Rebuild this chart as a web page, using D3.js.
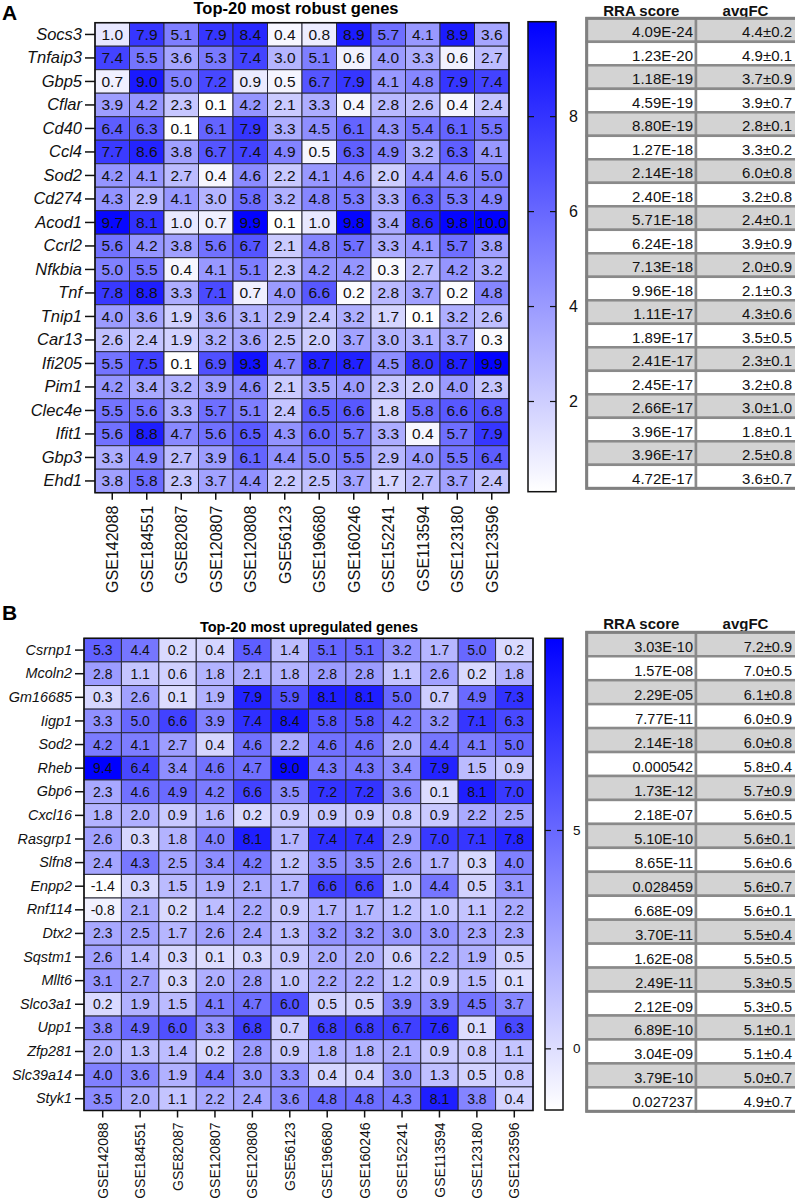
<!DOCTYPE html>
<html><head><meta charset="utf-8">
<script src="https://cdn.jsdelivr.net/npm/d3@7/dist/d3.min.js"></script>
<style>body{margin:0;background:#fff;} svg{display:block;font-family:"Liberation Sans",Arial,sans-serif;}</style>
</head><body>
<script>
// ---------- DATA ----------
const datasets = ["GSE142088","GSE184551","GSE82087","GSE120807","GSE120808","GSE56123","GSE196680","GSE160246","GSE152241","GSE113594","GSE123180","GSE123596"];

const robustGenes = ["Socs3","Tnfaip3","Gbp5","Cflar","Cd40","Ccl4","Sod2","Cd274","Acod1","Ccrl2","Nfkbia","Tnf","Tnip1","Car13","Ifi205","Pim1","Clec4e","Ifit1","Gbp3","Ehd1"];
const robustValues = [
  [1.0,7.9,5.1,7.9,8.4,0.4,0.8,8.9,5.7,4.1,8.9,3.6],
  [7.4,5.5,3.6,5.3,7.4,3.0,5.1,0.6,4.0,3.3,0.6,2.7],
  [0.7,9.0,5.0,7.2,0.9,0.5,6.7,7.9,4.1,4.8,7.9,7.4],
  [3.9,4.2,2.3,0.1,4.2,2.1,3.3,0.4,2.8,2.6,0.4,2.4],
  [6.4,6.3,0.1,6.1,7.9,3.3,4.5,6.1,4.3,5.4,6.1,5.5],
  [7.7,8.6,3.8,6.7,7.4,4.9,0.5,6.3,4.9,3.2,6.3,4.1],
  [4.2,4.1,2.7,0.4,4.6,2.2,4.1,4.6,2.0,4.4,4.6,5.0],
  [4.3,2.9,4.1,3.0,5.8,3.2,4.8,5.3,3.3,6.3,5.3,4.9],
  [9.7,8.1,1.0,0.7,9.9,0.1,1.0,9.8,3.4,8.6,9.8,10.0],
  [5.6,4.2,3.8,5.6,6.7,2.1,4.8,5.7,3.3,4.1,5.7,3.8],
  [5.0,5.5,0.4,4.1,5.1,2.3,4.2,4.2,0.3,2.7,4.2,3.2],
  [7.8,8.8,3.3,7.1,0.7,4.0,6.6,0.2,2.8,3.7,0.2,4.8],
  [4.0,3.6,1.9,3.6,3.1,2.9,2.4,3.2,1.7,0.1,3.2,2.6],
  [2.6,2.4,1.9,3.2,3.6,2.5,2.0,3.7,3.0,3.1,3.7,0.3],
  [5.5,7.5,0.1,6.9,9.3,4.7,8.7,8.7,4.5,8.0,8.7,9.9],
  [4.2,3.4,3.2,3.9,4.6,2.1,3.5,4.0,2.3,2.0,4.0,2.3],
  [5.5,5.6,3.3,5.7,5.1,2.4,6.5,6.6,1.8,5.8,6.6,6.8],
  [5.6,8.8,4.7,5.6,6.5,4.3,6.0,5.7,3.3,0.4,5.7,7.9],
  [3.3,4.9,2.7,3.9,6.1,4.4,5.0,5.5,2.9,4.0,5.5,6.4],
  [3.8,5.8,2.3,3.7,4.4,2.2,2.5,3.7,1.7,2.7,3.7,2.4]
];
const robustRRA = ["4.09E-24","1.23E-20","1.18E-19","4.59E-19","8.80E-19","1.27E-18","2.14E-18","2.40E-18","5.71E-18","6.24E-18","7.13E-18","9.96E-18","1.11E-17","1.89E-17","2.41E-17","2.45E-17","2.66E-17","3.96E-17","3.96E-17","4.72E-17"];
const robustFC = ["4.4±0.2","4.9±0.1","3.7±0.9","3.9±0.7","2.8±0.1","3.3±0.2","6.0±0.8","3.2±0.8","2.4±0.1","3.9±0.9","2.0±0.9","2.1±0.3","4.3±0.6","3.5±0.5","2.3±0.1","3.2±0.8","3.0±1.0","1.8±0.1","2.5±0.8","3.6±0.7"];
const robustTicks = [2,4,6,8];

const upGenes = ["Csrnp1","Mcoln2","Gm16685","Iigp1","Sod2","Rheb","Gbp6","Cxcl16","Rasgrp1","Slfn8","Enpp2","Rnf114","Dtx2","Sqstm1","Mllt6","Slco3a1","Upp1","Zfp281","Slc39a14","Styk1"];
const upValues = [
  [5.3,4.4,0.2,0.4,5.4,1.4,5.1,5.1,3.2,1.7,5.0,0.2],
  [2.8,1.1,0.6,1.8,2.1,1.8,2.8,2.8,1.1,2.6,0.2,1.8],
  [0.3,2.6,0.1,1.9,7.9,5.9,8.1,8.1,5.0,0.7,4.9,7.3],
  [3.3,5.0,6.6,3.9,7.4,8.4,5.8,5.8,4.2,3.2,7.1,6.3],
  [4.2,4.1,2.7,0.4,4.6,2.2,4.6,4.6,2.0,4.4,4.1,5.0],
  [9.4,6.4,3.4,4.6,4.7,9.0,4.3,4.3,3.4,7.9,1.5,0.9],
  [2.3,4.6,4.9,4.2,6.6,3.5,7.2,7.2,3.6,0.1,8.1,7.0],
  [1.8,2.0,0.9,1.6,0.2,0.9,0.9,0.9,0.8,0.9,2.2,2.5],
  [2.6,0.3,1.8,4.0,8.1,1.7,7.4,7.4,2.9,7.0,7.1,7.8],
  [2.4,4.3,2.5,3.4,4.2,1.2,3.5,3.5,2.6,1.7,0.3,4.0],
  [-1.4,0.3,1.5,1.9,2.1,1.7,6.6,6.6,1.0,4.4,0.5,3.1],
  [-0.8,2.1,0.2,1.4,2.2,0.9,1.7,1.7,1.2,1.0,1.1,2.2],
  [2.3,2.5,1.7,2.6,2.4,1.3,3.2,3.2,3.0,3.0,2.3,2.3],
  [2.6,1.4,0.3,0.1,0.3,0.9,2.0,2.0,0.6,2.2,1.9,0.5],
  [3.1,2.7,0.3,2.0,2.8,1.0,2.2,2.2,1.2,0.9,1.5,0.1],
  [0.2,1.9,1.5,4.1,4.7,6.0,0.5,0.5,3.9,3.9,4.5,3.7],
  [3.8,4.9,6.0,3.3,6.8,0.7,6.8,6.8,6.7,7.6,0.1,6.3],
  [2.0,1.3,1.4,0.2,2.8,0.9,1.8,1.8,2.1,0.9,0.8,1.1],
  [4.0,3.6,1.9,4.4,3.0,3.3,0.4,0.4,3.0,1.3,0.5,0.8],
  [3.5,2.0,1.1,2.2,2.4,3.6,4.8,4.8,4.3,8.1,3.8,0.4]
];
const upRRA = ["3.03E-10","1.57E-08","2.29E-05","7.77E-11","2.14E-18","0.000542","1.73E-12","2.18E-07","5.10E-10","8.65E-11","0.028459","6.68E-09","3.70E-11","1.62E-08","2.49E-11","2.12E-09","6.89E-10","3.04E-09","3.79E-10","0.027237"];
const upFC = ["7.2±0.9","7.0±0.5","6.1±0.8","6.0±0.9","6.0±0.8","5.8±0.4","5.7±0.9","5.6±0.5","5.6±0.1","5.6±0.6","5.6±0.7","5.6±0.1","5.5±0.4","5.5±0.5","5.3±0.5","5.3±0.5","5.1±0.1","5.1±0.4","5.0±0.7","4.9±0.7"];
const upTicks = [0,5];

// ---------- DRAWING ----------
const svg = d3.select("body").append("svg").attr("width",795).attr("height",1200);

function panel(cfg){
  const g = svg.append("g");
  const x = d3.scaleBand().domain(datasets).range([cfg.hx0,cfg.hx1]);
  const y = d3.scaleBand().domain(cfg.genes).range([cfg.hy0,cfg.hy1]);
  const color = d3.scaleLinear().domain(cfg.domain).range(["#ffffff","#0000ff"]).interpolate(d3.interpolateRgb).clamp(true);

  // panel letter + title
  g.append("text").attr("x",2).attr("y",cfg.letterY).attr("font-size",21).attr("font-weight","bold").text(cfg.letter);
  g.append("text").attr("x",cfg.titleX).attr("y",cfg.titleY).attr("text-anchor","middle")
    .attr("font-size",cfg.titleSize).attr("font-weight","bold").text(cfg.title);

  // cells
  const cells = [];
  cfg.values.forEach((row,i)=>row.forEach((v,j)=>cells.push({gene:cfg.genes[i],ds:datasets[j],v})));
  g.selectAll("rect.cell").data(cells).join("rect").attr("class","cell")
    .attr("x",d=>x(d.ds)).attr("y",d=>y(d.gene))
    .attr("width",x.bandwidth()).attr("height",y.bandwidth())
    .attr("fill",d=>color(d.v)).attr("stroke","#2a2a3a").attr("stroke-width",1);
  g.selectAll("text.val").data(cells).join("text").attr("class","val")
    .attr("x",d=>x(d.ds)+x.bandwidth()/2).attr("y",d=>y(d.gene)+y.bandwidth()/2)
    .attr("text-anchor","middle").attr("dominant-baseline","central")
    .attr("font-size",cfg.cellFont).attr("fill","#111").text(d=>d.v.toFixed(1));
  g.append("rect").attr("x",cfg.hx0).attr("y",cfg.hy0).attr("width",cfg.hx1-cfg.hx0).attr("height",cfg.hy1-cfg.hy0)
    .attr("fill","none").attr("stroke","#111").attr("stroke-width",1.5);

  // y axis
  const ya = g.append("g").attr("transform",`translate(${cfg.hx0},0)`)
    .call(d3.axisLeft(y).tickSize(cfg.yTick).tickPadding(3));
  ya.select(".domain").remove();
  ya.selectAll(".tick line").attr("stroke","#111").attr("stroke-width",1.5);
  ya.selectAll(".tick text").attr("font-size",cfg.geneFont).attr("font-style","italic").attr("fill","#111")
    .attr("font-family",'"Liberation Sans",Arial,sans-serif');

  // x axis
  const xa = g.append("g").attr("transform",`translate(0,${cfg.hy1})`)
    .call(d3.axisBottom(x).tickSize(cfg.xTick));
  xa.select(".domain").remove();
  xa.selectAll(".tick line").attr("stroke","#111").attr("stroke-width",1.5);
  xa.selectAll(".tick text").attr("font-size",cfg.dsFont).attr("fill","#111")
    .attr("font-family",'"Liberation Sans",Arial,sans-serif')
    .attr("transform","rotate(-90)").attr("text-anchor","end")
    .attr("x",-(cfg.xTick+cfg.xPad)).attr("y",0).attr("dy","0.36em");

  // colorbar
  const gid = "grad"+cfg.letter;
  const grad = svg.append("defs").append("linearGradient").attr("id",gid)
    .attr("x1",0).attr("y1",1).attr("x2",0).attr("y2",0);
  d3.range(0,1.0001,0.1).forEach(t=>{
    const v = cfg.domain[0]+t*(cfg.domain[1]-cfg.domain[0]);
    grad.append("stop").attr("offset",t).attr("stop-color",color(v));
  });
  const cb = cfg.cb;
  g.append("rect").attr("x",cb.x0).attr("y",cb.y0).attr("width",cb.x1-cb.x0).attr("height",cb.y1-cb.y0)
    .attr("fill",`url(#${gid})`).attr("stroke","#111").attr("stroke-width",1.5);
  const cs = d3.scaleLinear().domain(cfg.domain).range([cb.y1,cb.y0]);
  const tk = g.selectAll("g.cbt").data(cfg.ticks).join("g").attr("class","cbt");
  tk.append("line").attr("x1",cb.x0).attr("x2",cb.x0+6).attr("y1",d=>cs(d)).attr("y2",d=>cs(d)).attr("stroke","#111").attr("stroke-width",1.2);
  tk.append("line").attr("x1",cb.x1-6).attr("x2",cb.x1).attr("y1",d=>cs(d)).attr("y2",d=>cs(d)).attr("stroke","#111").attr("stroke-width",1.2);
  tk.append("text").attr("x",cb.labelX).attr("y",d=>cs(d)).attr("dominant-baseline","central")
    .attr("font-size",cb.font).attr("fill","#111").text(d=>d);

  // table
  const tb = cfg.table;
  const ty = d3.scaleBand().domain(d3.range(cfg.genes.length)).range([tb.y0,tb.y1]);
  const cols = [{x0:tb.x0,x1:tb.xm,vals:cfg.rra,head:"RRA score"},{x0:tb.xm,x1:tb.x1,vals:cfg.fc,head:"avgFC"}];
  cols.forEach(c=>{
    g.append("text").attr("x",(c.x0+Math.min(c.x1,795))/2).attr("y",tb.headY).attr("text-anchor","middle")
      .attr("font-size",tb.headFont).attr("font-weight","bold").attr("fill","#111").text(c.head);
    g.selectAll(null).data(c.vals).join("rect")
      .attr("x",c.x0).attr("y",(d,i)=>ty(i)).attr("width",c.x1-c.x0).attr("height",ty.bandwidth())
      .attr("fill",(d,i)=>i%2===0?"#d3d3d3":"#ffffff").attr("stroke","#8a8a8a").attr("stroke-width",2.5);
  });
  cols.forEach(c=>{
    g.selectAll(null).data(c.vals).join("text")
      .attr("x",Math.min(c.x1,795)-3).attr("y",(d,i)=>ty(i)+ty.bandwidth()-tb.baseOff)
      .attr("text-anchor","end").attr("font-size",tb.font).attr("fill","#111").text(d=>d);
  });
  g.append("rect").attr("x",tb.x0).attr("y",tb.y0).attr("width",tb.x1-tb.x0).attr("height",tb.y1-tb.y0)
    .attr("fill","none").attr("stroke","#808080").attr("stroke-width",3);
}

panel({
  letter:"A", letterY:20, title:"Top-20 most robust genes", titleX:296, titleY:14, titleSize:16.5,
  genes:robustGenes, values:robustValues, domain:[0.1,10],
  hx0:95, hx1:509, hy0:22.7, hy1:492.7,
  cellFont:15.5, geneFont:16.5, dsFont:16, yTick:10, xTick:7, xPad:6,
  cb:{x0:528,x1:556,y0:21.7,y1:491.7,labelX:569,font:16},
  ticks:robustTicks, rra:robustRRA, fc:robustFC,
  table:{x0:586.7,xm:696,x1:798,y0:18.3,y1:488.3,headY:16,headFont:15,font:15,baseOff:4.5}
});

panel({
  letter:"B", letterY:620, title:"Top-20 most upregulated genes", titleX:309, titleY:632, titleSize:14.5,
  genes:upGenes, values:upValues, domain:[-1.4,9.4],
  hx0:84, hx1:533, hy0:638.3, hy1:1110.5,
  cellFont:14, geneFont:14.4, dsFont:14, yTick:9, xTick:7, xPad:5,
  cb:{x0:545,x1:563,y0:638.3,y1:1110,labelX:573,font:13.5},
  ticks:upTicks, rra:upRRA, fc:upFC,
  table:{x0:586.7,xm:696,x1:798,y0:632.3,y1:1111.3,headY:629,headFont:15,font:14.5,baseOff:4}
});
</script>
</body></html>
